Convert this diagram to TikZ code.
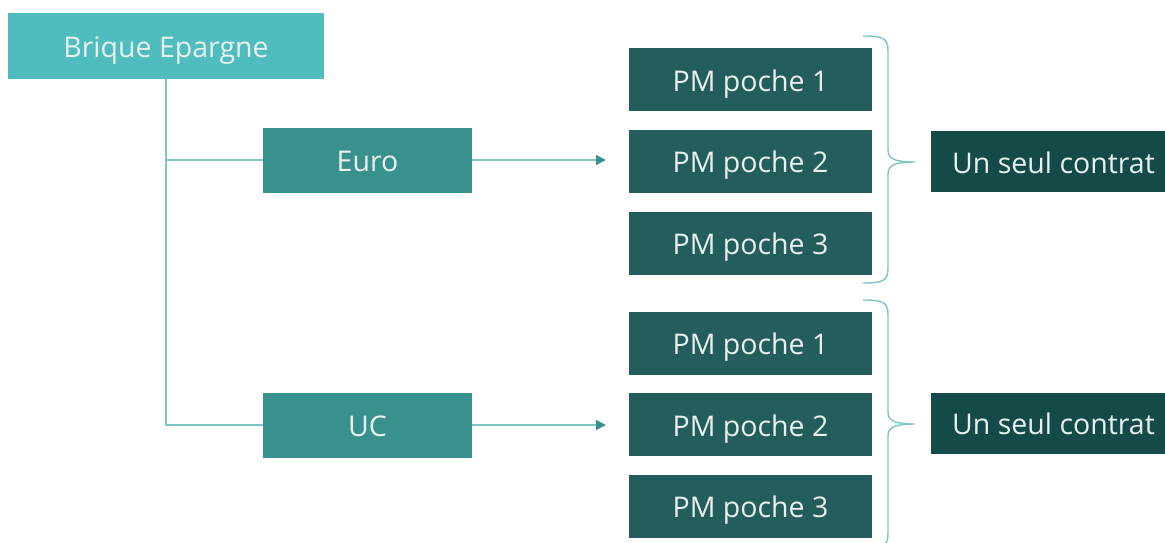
\documentclass[tikz,border=0pt]{standalone}
\usepackage{fontspec}
\setmainfont{Open Sans}
\usetikzlibrary{arrows.meta}
\definecolor{rootc}{HTML}{4FBDBD}
\definecolor{midc}{HTML}{38918C}
\definecolor{pmc}{HTML}{235E5C}
\definecolor{endc}{HTML}{144A48}
\definecolor{linec}{HTML}{7CC6C4}
\definecolor{txtc}{HTML}{E8F1F0}
\tikzset{
  box/.style={rectangle, inner sep=0pt, text height=23pt, text depth=0pt,
    text=txtc, font=\fontsize{28.5}{32}\selectfont},
  rootbox/.style={box, fill=rootc, minimum width=316pt, minimum height=66pt},
  midbox/.style={box, fill=midc, minimum width=209pt, minimum height=65pt},
  pmbox/.style={box, fill=pmc, minimum width=243pt, minimum height=63pt},
  endbox/.style={box, fill=endc, minimum width=245pt, minimum height=61pt},
  link/.style={draw=linec, line width=1.6pt},
  arrowlink/.style={link, -{Triangle[length=10pt,width=10pt,color=midc,fill=midc]}},
}
\begin{document}
\begin{tikzpicture}[x=1pt,y=-1pt]
\useasboundingbox (0,0) rectangle (1165,542);
\clip (0,0) rectangle (1165,542);
\node[rootbox] (root) at (166,46) {Brique Epargne};
\node[midbox] (euro) at (367.5,160) {Euro};
\node[midbox] (uc) at (367.5,425) {UC};
\node[pmbox] (p11) at (750.5,79.5) {PM poche 1};
\node[pmbox] (p12) at (750.5,161) {PM poche 2};
\node[pmbox] (p13) at (750.5,243) {PM poche 3};
\node[pmbox] (p21) at (750.5,343) {PM poche 1};
\node[pmbox] (p22) at (750.5,424.5) {PM poche 2};
\node[pmbox] (p23) at (750.5,506) {PM poche 3};
\node[endbox] (c1) at (1053.5,161.5) {Un seul contrat};
\node[endbox] (c2) at (1053.5,423) {Un seul contrat};
% tree connectors
\draw[link] (root.south) |- (uc.west);
\draw[link] (root.south |- euro.west) -- (euro.west);
% arrows towards the pockets
\coordinate (a1) at (606,160);
\coordinate (a2) at (606,425);
\draw[arrowlink] (euro.east) -- (a1);
\draw[arrowlink] (uc.east) -- (a2);
% braces grouping the pockets
\foreach \top/\tip/\bot in {36/162/283, 300/424/548}{
  \draw[link, line width=1.4pt]
    (863,\top) .. controls (882,\top) and (888,\top+2) .. (888,\top+14)
    -- (888,\tip-12) .. controls (888,\tip-3) and (895,\tip) .. (915,\tip)
    (888,\tip+12) .. controls (888,\tip+3) and (895,\tip) .. (915,\tip)
    (888,\tip+12) -- (888,\bot-14) .. controls (888,\bot-2) and (882,\bot) .. (863,\bot);
}
\end{tikzpicture}
\end{document}
